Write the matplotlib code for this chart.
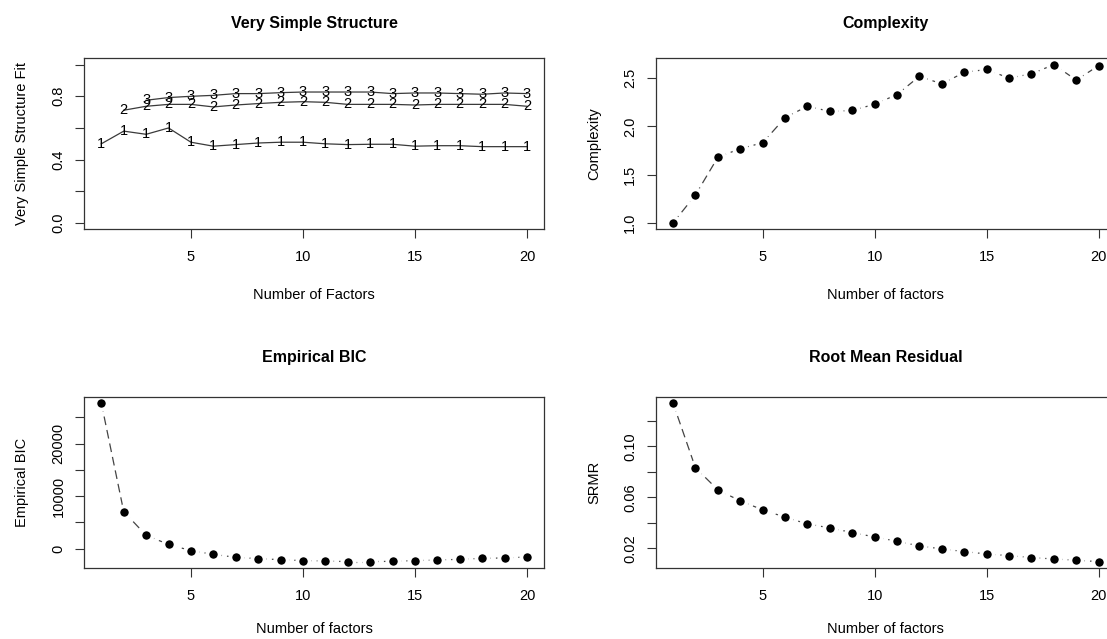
import numpy as np
import matplotlib
matplotlib.use("Agg")
import matplotlib.pyplot as plt

plt.rcParams["font.family"] = ["Liberation Sans", "DejaVu Sans"]

# number of factors extracted
factors = list(range(1, 21))

# Very Simple Structure fit, complexity 1, 2, 3 (2 starts at 2 factors, 3 at 3)
vss1 = [0.50, 0.58, 0.56, 0.60, 0.51, 0.485, 0.495, 0.505, 0.51, 0.51,
        0.50, 0.495, 0.497, 0.497, 0.485, 0.488, 0.488, 0.482, 0.482, 0.482]
vss2 = [0.712, 0.737, 0.749, 0.749, 0.733, 0.745, 0.754, 0.762, 0.766, 0.762,
        0.749, 0.749, 0.749, 0.745, 0.749, 0.749, 0.749, 0.749, 0.737]
vss3 = [0.775, 0.792, 0.80, 0.806, 0.817, 0.817, 0.823, 0.827, 0.827, 0.827,
        0.827, 0.817, 0.821, 0.821, 0.817, 0.813, 0.821, 0.817]

complexity = [1.00, 1.29, 1.68, 1.77, 1.83, 2.09, 2.21, 2.155, 2.165, 2.23,
              2.33, 2.52, 2.44, 2.56, 2.59, 2.50, 2.545, 2.64, 2.48, 2.63]

ebic = [27700, 7050, 2530, 820, -380, -1080, -1650, -1900, -2090, -2280,
        -2340, -2470, -2470, -2400, -2280, -2150, -2030, -1840, -1770, -1580]

srmr = [0.134, 0.0832, 0.0659, 0.0572, 0.0502, 0.0444, 0.0391, 0.0360, 0.0323, 0.0289,
        0.0255, 0.0218, 0.0195, 0.0174, 0.0155, 0.0142, 0.0127, 0.0116, 0.0106, 0.0095]

W, H = 1107, 639
fig = plt.figure(figsize=(W / 100, H / 100), dpi=100)

FS = 10.5
BOX = "#333333"


def px_axes(x0, y0, x1, y1):
    return fig.add_axes([x0 / W, 1 - y1 / H, (x1 - x0) / W, (y1 - y0) / H])


def r_style(ax, y, yticks, ylabels_shown, title, xlabel, ylabel, tpad=22, xpad=17):
    lo, hi = min(y), max(y)
    pad = 0.04 * (hi - lo)
    ax.set_ylim(lo - pad, hi + pad)
    ax.set_xlim(1 - 0.04 * 19, 20 + 0.04 * 19)
    ax.set_xticks([5, 10, 15, 20])
    ax.set_yticks(yticks)
    ax.set_yticklabels(ylabels_shown)
    for lab in ax.get_yticklabels():
        lab.set_rotation(90)
        lab.set_va("center")
    ax.tick_params(direction="out", length=6.5, width=0.8, color=BOX,
                   labelsize=FS, pad=8.5)
    ax.tick_params(axis="y", pad=7)
    for s in ax.spines.values():
        s.set_color(BOX)
        s.set_linewidth(0.9)
    ax.set_title(title, fontsize=11.5, fontweight="bold", pad=tpad)
    ax.set_xlabel(xlabel, fontsize=FS, labelpad=xpad)
    ax.set_ylabel(ylabel, fontsize=FS, labelpad=16)


def dotted_series(ax, x, y):
    # R type="b": separate dashed segments with a gap around each point
    for i in range(len(x) - 1):
        ax.plot(x[i:i + 2], y[i:i + 2], color="#444444", lw=0.9,
                dashes=(7, 4), zorder=1)
    ax.plot(x, y, ls="none", marker="o", ms=8.9, mfc="black",
            mec="white", mew=2.8, zorder=2)


# Very Simple Structure
ax1 = px_axes(84.3, 58.3, 544, 229.3)
for start, vals, ch in [(1, vss1, "1"), (2, vss2, "2"), (3, vss3, "3")]:
    xs = factors[start - 1:]
    ax1.plot(xs, vals, color="#3a3a3a", lw=0.9, zorder=1)
    for xv, yv in zip(xs, vals):
        ax1.text(xv, yv, ch, ha="center", va="center", fontsize=FS, zorder=2)
r_style(ax1, [0, 1], [0, 0.2, 0.4, 0.6, 0.8, 1.0],
        ["0.0", "", "0.4", "", "0.8", ""],
        "Very Simple Structure", "Number of Factors", "Very Simple Structure Fit")

# Complexity
ax2 = px_axes(656, 58.3, 1115.7, 229.3)
dotted_series(ax2, factors, complexity)
r_style(ax2, complexity, [1.0, 1.5, 2.0, 2.5], ["1.0", "1.5", "2.0", "2.5"],
        "Complexity", "Number of factors", "Complexity")

# Empirical BIC
ax3 = px_axes(84.3, 396.7, 544, 568)
dotted_series(ax3, factors, ebic)
r_style(ax3, ebic, [0, 5000, 10000, 15000, 20000, 25000],
        ["0", "", "10000", "", "20000", ""],
        "Empirical BIC", "Number of factors", "Empirical BIC", tpad=25, xpad=14)

# Root Mean Residual
ax4 = px_axes(656, 396.7, 1115.7, 568)
dotted_series(ax4, factors, srmr)
r_style(ax4, srmr, [0.02, 0.04, 0.06, 0.08, 0.10, 0.12],
        ["0.02", "", "0.06", "", "0.10", ""],
        "Root Mean Residual", "Number of factors", "SRMR", tpad=25, xpad=14)

fig.savefig("out.png", dpi=100)
